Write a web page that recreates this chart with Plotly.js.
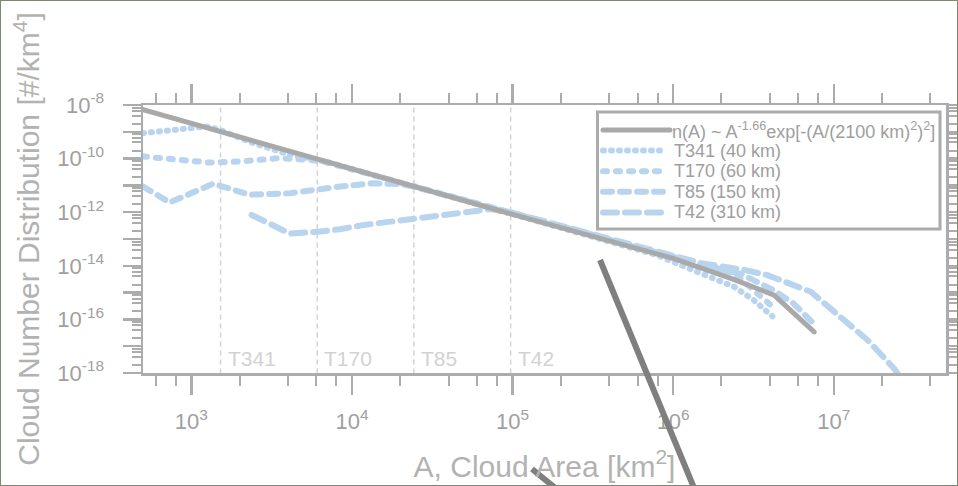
<!DOCTYPE html>
<html>
<head>
<meta charset="utf-8">
<script src="https://cdn.plot.ly/plotly-3.0.1.min.js"></script>
<style>
  html, body { margin: 0; padding: 0; background: #fff; }
  #wrap { position: relative; width: 958px; height: 486px; }
  #chart { width: 958px; height: 486px; }
  #frame { position: absolute; left: 0; top: 0; width: 956px; height: 484px; border: 1px solid #7a8a6c; pointer-events: none; }
  .scatterlayer path.js-line { stroke-linecap: round !important; }
</style>
</head>
<body>
<div id="wrap"><div id="chart"></div><div id="frame"></div></div>
<script>
// ---- data ----
const fitA = [500, 1520, 1e4, 1e5, 1e6, 2.29e6, 4.25e6, 7.55e6];
const fitN = [6.7e-9, 1.02e-9, 4.0e-11, 8.3e-13, 1.9e-14, 3.4e-15, 8.1e-16, 3.4e-17];

const t341A = [500, 764, 1240, 1500, 2310, 3920, 6950, 1.26e4, 2.51e4, 5.01e4, 1e5, 2e5, 3.98e5, 7.94e5, 1.49e6, 2.39e6, 3.18e6, 4.15e6];
const t341N = [8.9e-10, 1.2e-9, 1.58e-9, 1.2e-9, 4.2e-10, 1.5e-10, 7.6e-11, 2.8e-11, 8.9e-12, 2.8e-12, 8.7e-13, 2.75e-13, 8.3e-14, 2.5e-14, 5.2e-15, 1.66e-15, 5.2e-16, 1.3e-16];

const t170A = [500, 767, 1300, 2000, 3560, 6310, 1.26e4, 2.51e4, 5.01e4, 1e5, 2e5, 3.98e5, 7.94e5, 1.49e6, 2.39e6, 3.35e6, 4.15e6];
const t170N = [1.2e-10, 9.5e-11, 7.1e-11, 7.8e-11, 1.05e-10, 8.3e-11, 2.8e-11, 8.9e-12, 2.9e-12, 9.1e-13, 2.9e-13, 9.1e-14, 2.9e-14, 1.0e-14, 5.2e-15, 9.3e-16, 3.0e-16];

const t85A = [500, 733, 1365, 2310, 4100, 6030, 8410, 1.36e4, 1.99e4, 2.4e4, 5.01e4, 1e5, 2e5, 3.98e5, 7.94e5, 1.49e6, 2.64e6, 4.25e6, 5.6e6, 7.45e6];
const t85N = [9.1e-12, 2.3e-12, 1.15e-11, 4.5e-12, 5.1e-12, 7.4e-12, 9.1e-12, 1.2e-11, 1.12e-11, 9.1e-12, 3.0e-12, 9.3e-13, 3.0e-13, 9.6e-14, 3.2e-14, 1.1e-14, 5.0e-15, 1.2e-15, 4.0e-16, 7.2e-17];

const t42A = [2370, 4100, 6310, 8410, 1.17e4, 1.9e4, 3.07e4, 4.94e4, 7.26e4, 1e5, 2e5, 3.98e5, 7.94e5, 1.49e6, 2.75e6, 3.86e6, 7.2e6, 1.0e7, 1.63e7, 2.38e7, 2.63e7];
const t42N = [7.9e-13, 1.6e-13, 1.9e-13, 2.3e-13, 3.3e-13, 4.7e-13, 6.8e-13, 9.1e-13, 1.3e-12, 9.5e-13, 3.1e-13, 9.8e-14, 3.3e-14, 1.26e-14, 7.1e-15, 4.5e-15, 1.07e-15, 1.9e-16, 1.66e-17, 1.45e-18, 6.3e-19];

const gridA = [1520, 6080, 24300, 97300];
const gridLabels = ['T341', 'T170', 'T85', 'T42'];

const xTickVals = [1e3, 1e4, 1e5, 1e6, 1e7];
const xTickText = ['10<sup>3</sup>', '10<sup>4</sup>', '10<sup>5</sup>', '10<sup>6</sup>', '10<sup>7</sup>'];
const yTickVals = [1e-18, 1e-17, 1e-16, 1e-15, 1e-14, 1e-13, 1e-12, 1e-11, 1e-10, 1e-9, 1e-8];
const yTickText = ['10<sup>-18</sup>', '', '10<sup>-16</sup>', '', '10<sup>-14</sup>', '', '10<sup>-12</sup>', '', '10<sup>-10</sup>', '', '10<sup>-8</sup>'];
const minorMult = [2, 4, 6, 8];

const seriesNames = ['n(A) ~ A<sup>-1.66</sup>exp[-(A/(2100 km)<sup>2</sup>)<sup>2</sup>]', 'T341 (40 km)', 'T170 (60 km)', 'T85 (150 km)', 'T42 (310 km)'];

// ---- styles ----
const BLUE = '#b9d4ee';
const GRAY = '#a9a9a9';
const AX = '#acacac';
const FONT = 'Liberation Sans, Arial, sans-serif';
const styles = [
  { color: GRAY, width: 5, dash: 'solid' },
  { color: BLUE, width: 6, dash: '1px,7px' },
  { color: BLUE, width: 6, dash: '4px,9px' },
  { color: BLUE, width: 6, dash: '9px,8px' },
  { color: BLUE, width: 6, dash: '14px,8px' }
];

// ---- build ----
const xMinor = [];
[100, 1e3, 1e4, 1e5, 1e6, 1e7].forEach(d => minorMult.forEach(m => xMinor.push(d * m)));
const yMinor = [];
[1e-18, 1e-17, 1e-16, 1e-15, 1e-14, 1e-13, 1e-12, 1e-11, 1e-10, 1e-9].forEach(d => minorMult.forEach(m => yMinor.push(d * m)));

const traces = [];
gridA.forEach(v => traces.push({
  x: [v, v], y: [1e-18, 1e-8], mode: 'lines', showlegend: false, hoverinfo: 'skip',
  line: { color: '#d4d4d4', width: 1.5, dash: '4px,5px' }
}));
const seriesData = [[fitA, fitN], [t341A, t341N], [t170A, t170N], [t85A, t85N], [t42A, t42N]];
[4, 3, 2, 1, 0].forEach(i => traces.push({
  x: seriesData[i][0], y: seriesData[i][1], mode: 'lines', name: seriesNames[i], showlegend: false,
  line: styles[i]
}));

const annotations = gridA.map((v, i) => ({
  x: Math.log10(v), y: -18, xref: 'x', yref: 'y', text: gridLabels[i], showarrow: false,
  xanchor: 'left', yanchor: 'bottom', xshift: 5, yshift: 1,
  font: { family: FONT, size: 21, color: '#d2d2d2' }
}));

// custom legend box (paper coords of the plot area: x from 143px, width 803; y bottom 373px, height 268)
const px2x = p => (p - 143) / 803;
const py2y = p => (373 - p) / 268;
const shapes = [
  { type: 'line', xref: 'paper', yref: 'paper', x0: px2x(600), y0: py2y(260), x1: px2x(699), y1: py2y(500), line: { color: '#7f7f7f', width: 6 } },
  { type: 'line', xref: 'paper', yref: 'paper', x0: px2x(532), y0: py2y(469), x1: px2x(570), y1: py2y(500), line: { color: '#7f7f7f', width: 6 } },
  { type: 'rect', xref: 'paper', yref: 'paper', x0: px2x(597.5), x1: px2x(940), y0: py2y(112), y1: py2y(229), line: { color: '#ababab', width: 3 }, fillcolor: '#ffffff', layer: 'above' }
];
const rowY = [130, 150.6, 171.2, 191.8, 212.4];
seriesNames.forEach((nm, i) => {
  shapes.push({ type: 'line', xref: 'paper', yref: 'paper', x0: px2x(603), x1: px2x(i === 0 ? 670 : 666), y0: py2y(rowY[i]), y1: py2y(rowY[i]), line: styles[i], layer: 'above' });
  annotations.push({ x: px2x(i === 0 ? 670 : 672), y: py2y(rowY[i]), xref: 'paper', yref: 'paper', text: nm, showarrow: false,
    xanchor: 'left', yanchor: 'middle', font: { family: FONT, size: 18, color: '#9e9e9e' } });
});

const layout = {
  width: 958, height: 486,
  margin: { l: 143, r: 12, t: 105, b: 113 },
  paper_bgcolor: '#ffffff', plot_bgcolor: '#ffffff',
  font: { family: FONT, color: '#a0a0a0' },
  showlegend: false,
  xaxis: {
    type: 'log', range: [Math.log10(500), Math.log10(5e7)],
    showgrid: false, zeroline: false,
    showline: true, linecolor: AX, linewidth: 2.5, mirror: 'ticks',
    ticks: 'outside', ticklen: 19, tickwidth: 2.5, tickcolor: AX,
    tickmode: 'array', tickvals: xTickVals, ticktext: xTickText,
    tickfont: { size: 22, color: '#a0a0a0' }, ticklabelstandoff: 8,
    minor: { tickmode: 'array', tickvals: xMinor, ticks: 'outside', ticklen: 10, tickwidth: 2, tickcolor: AX, showgrid: false },
    title: { text: 'A, Cloud Area [km<sup>2</sup>]', font: { size: 30, color: '#b2b2b2' }, standoff: 23 },
    automargin: false
  },
  yaxis: {
    type: 'log', range: [-18, -8],
    showgrid: false, zeroline: false,
    showline: true, linecolor: AX, linewidth: 2.5, mirror: 'ticks',
    ticks: 'outside', ticklen: 18, tickwidth: 2.5, tickcolor: AX,
    tickmode: 'array', tickvals: yTickVals, ticktext: yTickText,
    tickfont: { size: 22, color: '#a0a0a0' }, ticklabelstandoff: 14,
    minor: { tickmode: 'array', tickvals: yMinor, ticks: 'outside', ticklen: 9, tickwidth: 2, tickcolor: AX, showgrid: false },
    title: { text: 'Cloud Number Distribution [#/km<sup>4</sup>]', font: { size: 30, color: '#b2b2b2' }, standoff: 9 },
    automargin: false
  },
  annotations: annotations,
  shapes: shapes
};

function roundCaps() {
  document.querySelectorAll('.scatterlayer path.js-line').forEach(p => {
    p.style.setProperty('stroke-linecap', 'round');
  });
  document.querySelectorAll('.shapelayer path').forEach(p => {
    const s = getComputedStyle(p).stroke;
    if (s.indexOf('127') === -1) p.style.setProperty('stroke-linecap', 'round');
  });
}
Plotly.newPlot('chart', traces, layout, { staticPlot: true, displayModeBar: false }).then(roundCaps);
</script>
</body>
</html>
